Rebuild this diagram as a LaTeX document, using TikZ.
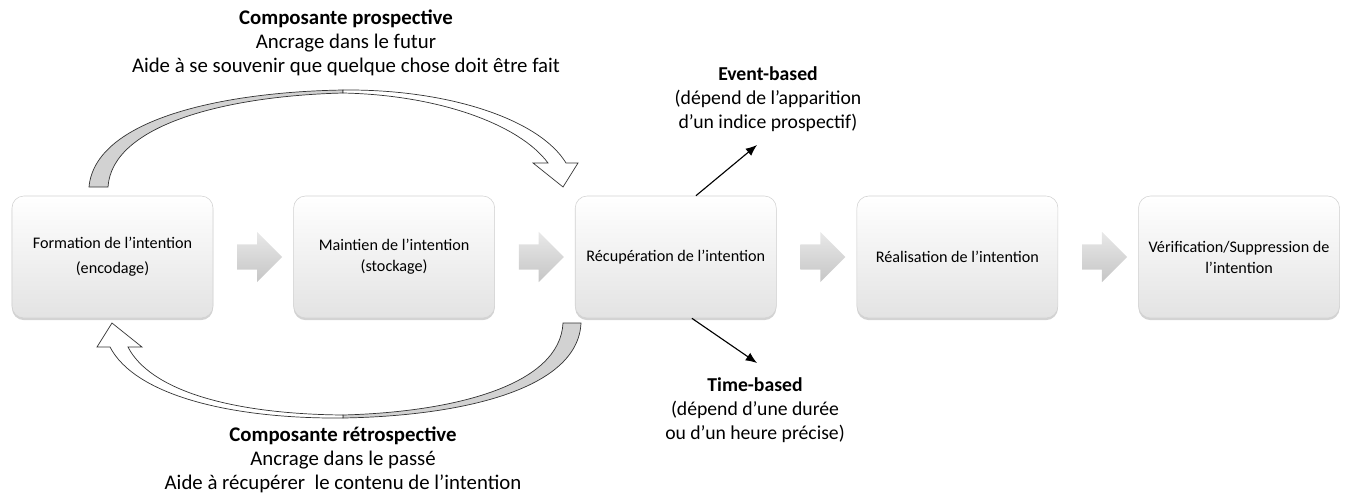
\documentclass[tikz,border=0pt]{standalone}
\usepackage{fontspec}
\setmainfont{Carlito}
\usetikzlibrary{positioning,calc,shapes.arrows,shadows,arrows.meta}

\tikzset{
  stagebox/.style={draw=gray!35, rounded corners=0.3cm, top color=white, bottom color=gray!22,
    minimum width=5.025cm, minimum height=3.05cm, align=center, font=\fontsize{11.5}{15}\selectfont,
    drop shadow={shadow xshift=0pt, shadow yshift=-1.5pt, opacity=0.35}},
  flowarrow/.style={single arrow, inner xsep=0pt, inner ysep=0.31cm, minimum height=1.125cm,
    single arrow head extend=0.31cm, top color=gray!18, bottom color=gray!45, draw=none},
  ribbon/.style={draw=black!80, line width=0.5pt, line join=miter},
  note/.style={align=center, font=\fontsize{14}{17}\selectfont},
  cue/.style={-{Latex[length=8pt,width=6.5pt]}, line width=0.8pt}
}

\begin{document}
\begin{tikzpicture}[x=0.025cm, y=-0.025cm]
  \useasboundingbox (0,0) rectangle (1352,501);

  % the five stages
  \node[stagebox] (form) at (112.5,257) {Formation de l’intention\\[3pt](encodage)};
  \node[stagebox, right=2cm of form] (maint) {Maintien de l’intention\\(stockage)};
  \node[stagebox, right=2cm of maint] (recup) {Récupération de l’intention};
  \node[stagebox, right=2cm of recup] (real) {Réalisation de l’intention};
  \node[stagebox, right=2cm of real] (verif) {Vérification/Suppression de\\l’intention};

  \foreach \a/\b in {form/maint, maint/recup, recup/real, real/verif}
    \path (\a.east) -- (\b.west) node[midway, flowarrow] {};

  % prospective component (top)
  \filldraw[ribbon, fill=gray!35] (89,187) .. controls (95,120) and (220,92) .. (343,90)
    -- (343,93) .. controls (225,96) and (112,125) .. (108,187) -- cycle;
  \filldraw[ribbon, fill=white] (343,90) .. controls (450,89) and (540,120) .. (566,163)
    -- (578,163) -- (563,187) -- (533,163) -- (548,163)
    .. controls (520,125) and (440,95) .. (343,93) -- cycle;

  % retrospective component (bottom)
  \filldraw[ribbon, fill=gray!35] (581,323) .. controls (578,390) and (460,416) .. (343,418)
    -- (343,415) .. controls (455,412) and (560,385) .. (563,323) -- cycle;
  \filldraw[ribbon, fill=white] (343,418) .. controls (230,419) and (135,395) .. (110,347)
    -- (97,347) -- (112,323) -- (142,347) -- (128,347)
    .. controls (150,390) and (230,414) .. (343,415) -- cycle;

  \node[note, font=\fontsize{14.8}{17}\selectfont] (prosp) at (346,42.5) {\textbf{Composante prospective}\\Ancrage dans le futur\\Aide à se souvenir que quelque chose doit être fait};
  \node[note, font=\fontsize{14.8}{17}\selectfont] (retro) at (343,460) {\textbf{Composante rétrospective}\\Ancrage dans le passé\\Aide à récupérer\ \ le contenu de l’intention};
  \node[note] (event) at (768,99) {\textbf{Event-based}\\(dépend de l’apparition\\d’un indice prospectif)};
  \node[note] (time) at (755,410) {\textbf{Time-based}\\(dépend d’une durée\\ou d’un heure précise)};

  \coordinate (eventtip) at (757,145);
  \coordinate (timetip) at (757,363);
  \draw[cue] ($(recup.north west)!0.6!(recup.north east)$) -- (eventtip);
  \draw[cue] ($(recup.south west)!0.58!(recup.south east)$) -- (timetip);
\end{tikzpicture}
\end{document}
